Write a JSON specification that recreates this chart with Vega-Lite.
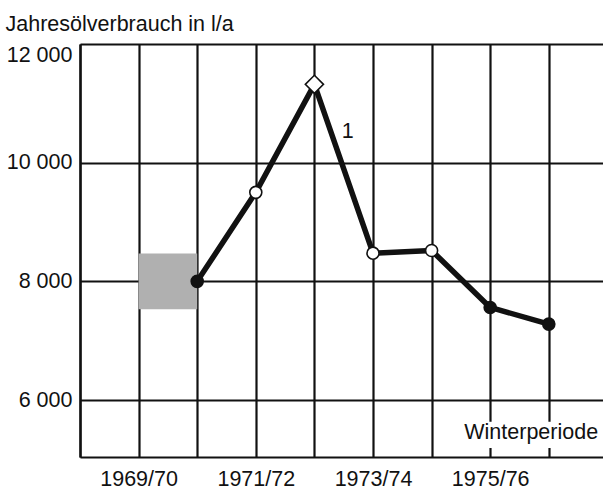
{
  "$schema": "https://vega.github.io/schema/vega-lite/v6.json",
  "autosize": {"type": "none"},
  "width": 523,
  "height": 413,
  "padding": {"left": 80, "top": 44, "right": 0, "bottom": 34},
  "background": "#ffffff",
  "config": {
    "view": {"stroke": null},
    "font": "Liberation Sans",
    "axis": {
      "domainColor": "#111111",
      "domainWidth": 2.2,
      "gridColor": "#111111",
      "gridWidth": 2.2,
      "gridOpacity": 1,
      "ticks": false,
      "tickSize": 0,
      "labelFont": "Liberation Sans",
      "labelFontSize": 21.5,
      "labelColor": "#111111",
      "titleFont": "Liberation Sans",
      "titleFontSize": 21.5,
      "titleFontWeight": "normal",
      "titleColor": "#111111"
    }
  },
  "datasets": {
    "verbrauch": [
      {"jahr": 1970, "liter": 8000, "markierung": "gefüllt"},
      {"jahr": 1971, "liter": 9500, "markierung": "offen"},
      {"jahr": 1972, "liter": 11320, "markierung": "Raute"},
      {"jahr": 1973, "liter": 8475, "markierung": "offen"},
      {"jahr": 1974, "liter": 8520, "markierung": "offen"},
      {"jahr": 1975, "liter": 7560, "markierung": "gefüllt"},
      {"jahr": 1976, "liter": 7280, "markierung": "gefüllt"}
    ],
    "band": [
      {"von": 1969, "bis": 1970, "unten": 7530, "oben": 8470}
    ],
    "kasten": [
      {"von": 1974.4, "bis": 1976.92, "unten": 5191, "oben": 5634}
    ],
    "beschriftung": [
      {"jahr": 1972.57, "liter": 10517, "text": "1"},
      {"jahr": 1975.7, "liter": 5444, "text": "Winterperiode"}
    ]
  },
  "layer": [
    {
      "data": {"name": "band"},
      "mark": {"type": "rect", "fill": "#b0b0b0"},
      "encoding": {
        "x": {
          "field": "von",
          "type": "quantitative",
          "scale": {"domain": [1968, 1976.925], "nice": false, "zero": false},
          "axis": {
            "values": [1968, 1969, 1970, 1971, 1972, 1973, 1974, 1975, 1976, 1977],
            "grid": true,
            "domain": true,
            "title": null,
            "labelExpr": "datum.value % 2 == 1 ? datum.value + '/' + (datum.value + 1 - 1900) : ''",
            "labelPadding": 11,
            "labelAlign": "center"
          }
        },
        "x2": {"field": "bis"},
        "y": {
          "field": "unten",
          "type": "quantitative",
          "scale": {"domain": [5040, 12000], "nice": false, "zero": false},
          "axis": {
            "values": [6000, 8000, 10000, 12000],
            "grid": true,
            "domain": true,
            "title": "Jahresölverbrauch in l/a",
            "titleAngle": 0,
            "titleAlign": "left",
            "titleBaseline": "alphabetic",
            "titleX": -75,
            "titleY": -14,
            "labelPadding": 8,
            "labelExpr": "replace(format(datum.value, ','), ',', ' ')",
            "labelBaseline": {"condition": {"test": "datum.value == 12000", "value": "top"}, "value": "middle"}
          }
        },
        "y2": {"field": "oben"}
      }
    },
    {
      "data": {"name": "kasten"},
      "mark": {"type": "rect", "fill": "#ffffff"},
      "encoding": {
        "x": {"field": "von", "type": "quantitative"},
        "x2": {"field": "bis"},
        "y": {"field": "unten", "type": "quantitative"},
        "y2": {"field": "oben"}
      }
    },
    {
      "data": {"name": "verbrauch"},
      "mark": {"type": "line", "color": "#111111", "strokeWidth": 5.5, "strokeJoin": "round"},
      "encoding": {
        "x": {"field": "jahr", "type": "quantitative"},
        "y": {"field": "liter", "type": "quantitative"}
      }
    },
    {
      "data": {"name": "verbrauch"},
      "mark": {"type": "point", "filled": false, "stroke": "#111111", "strokeWidth": 1.6, "opacity": 1},
      "encoding": {
        "x": {"field": "jahr", "type": "quantitative"},
        "y": {"field": "liter", "type": "quantitative"},
        "shape": {
          "field": "markierung",
          "type": "nominal",
          "scale": {"domain": ["gefüllt", "offen", "Raute"], "range": ["circle", "circle", "diamond"]},
          "legend": null
        },
        "fill": {
          "field": "markierung",
          "type": "nominal",
          "scale": {"domain": ["gefüllt", "offen", "Raute"], "range": ["#111111", "#ffffff", "#ffffff"]},
          "legend": null
        },
        "size": {"condition": {"test": "datum.markierung == 'Raute'", "value": 330}, "value": 145}
      }
    },
    {
      "data": {"name": "beschriftung"},
      "mark": {"type": "text", "font": "Liberation Sans", "fontSize": 21.5, "color": "#111111", "align": "center", "baseline": "middle"},
      "encoding": {
        "x": {"field": "jahr", "type": "quantitative"},
        "y": {"field": "liter", "type": "quantitative"},
        "text": {"field": "text"}
      }
    }
  ]
}
